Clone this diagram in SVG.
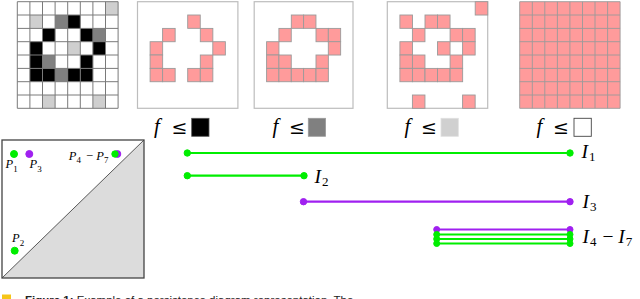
<svg xmlns="http://www.w3.org/2000/svg" xmlns:xlink="http://www.w3.org/1999/xlink" width="640" height="299" viewBox="0 0 640 299">
<style>
.frame{fill:#fff;stroke:#bdbdbd;stroke-width:1.2}
.pk{fill:#ff9b9b;stroke:#9a9a9a;stroke-width:0.9}
.grid{fill:none;stroke:#7a7a7a;stroke-width:1}
.pgrid{fill:none;stroke:#9a9a9a;stroke-width:0.9}
.k{fill:#000}.d{fill:#808080}.l{fill:#cfcfcf}
.math{font-family:"Liberation Serif",serif;font-style:italic;fill:#000}
.sub{font-style:normal}
.op{font-family:"DejaVu Serif","Liberation Serif",serif;fill:#000}
.g{stroke:#00ee00;fill:#00ee00}
.v{stroke:#a020f0;fill:#a020f0}
.bar{stroke-width:2.2;fill:none}
.cap{font-family:"Liberation Sans",Arial,sans-serif;font-size:11.5px;fill:#222}
</style>
<defs>
<rect id="c1" width="12.6" height="13.33"/>
<rect id="c2" class="pk" width="12.55" height="13.33"/>
<rect id="c3" class="pk" width="12.35" height="13.33"/>
</defs>

<g id="image-grid">
<rect x="17.3" y="1.7" width="100.8" height="106.6" fill="#fff"/>
<use xlink:href="#c1" class="l" x="105.5" y="1.7"/>
<use xlink:href="#c1" class="l" x="29.9" y="15"/>
<use xlink:href="#c1" class="l" x="67.7" y="41.7"/>
<use xlink:href="#c1" class="l" x="42.5" y="95"/>
<use xlink:href="#c1" class="l" x="92.9" y="95"/>
<use xlink:href="#c1" class="d" x="55.1" y="15"/>
<use xlink:href="#c1" class="d" x="92.9" y="28.4"/>
<use xlink:href="#c1" class="d" x="42.5" y="55"/>
<use xlink:href="#c1" class="d" x="55.1" y="68.4"/>
<use xlink:href="#c1" class="k" x="67.7" y="15"/>
<use xlink:href="#c1" class="k" x="42.5" y="28.4"/>
<use xlink:href="#c1" class="k" x="80.3" y="28.4"/>
<use xlink:href="#c1" class="k" x="29.9" y="41.7"/>
<use xlink:href="#c1" class="k" x="92.9" y="41.7"/>
<use xlink:href="#c1" class="k" x="29.9" y="55"/>
<use xlink:href="#c1" class="k" x="80.3" y="55"/>
<use xlink:href="#c1" class="k" x="29.9" y="68.4"/>
<use xlink:href="#c1" class="k" x="42.5" y="68.4"/>
<use xlink:href="#c1" class="k" x="67.7" y="68.4"/>
<use xlink:href="#c1" class="k" x="80.3" y="68.4"/>
<path class="grid" d="M17.3 1.7V108.3M29.9 1.7V108.3M42.5 1.7V108.3M55.1 1.7V108.3M67.7 1.7V108.3M80.3 1.7V108.3M92.9 1.7V108.3M105.5 1.7V108.3M118.1 1.7V108.3M17.3 1.7H118.1M17.3 15H118.1M17.3 28.4H118.1M17.3 41.7H118.1M17.3 55H118.1M17.3 68.4H118.1M17.3 81.7H118.1M17.3 95H118.1M17.3 108.3H118.1"/>
</g>

<g id="panel-black">
<rect class="frame" x="137.5" y="1.7" width="100.4" height="106.6"/>
<use xlink:href="#c2" x="187.7" y="15"/>
<use xlink:href="#c2" x="162.6" y="28.4"/>
<use xlink:href="#c2" x="200.3" y="28.4"/>
<use xlink:href="#c2" x="150.1" y="41.7"/>
<use xlink:href="#c2" x="212.8" y="41.7"/>
<use xlink:href="#c2" x="150.1" y="55"/>
<use xlink:href="#c2" x="200.3" y="55"/>
<use xlink:href="#c2" x="150.1" y="68.4"/>
<use xlink:href="#c2" x="162.6" y="68.4"/>
<use xlink:href="#c2" x="187.7" y="68.4"/>
<use xlink:href="#c2" x="200.3" y="68.4"/>
<text class="math" x="154" y="133" font-size="21">f</text>
<text class="op" x="171.5" y="134" font-size="19">≤</text>
<rect x="191.7" y="118.3" width="17.3" height="18" fill="#000" stroke="#555" stroke-width="0.8"/>
</g>

<g id="panel-darkgray">
<rect class="frame" x="254.2" y="1.7" width="98.8" height="106.6"/>
<use xlink:href="#c3" x="291.3" y="15"/>
<use xlink:href="#c3" x="303.6" y="15"/>
<use xlink:href="#c3" x="278.9" y="28.4"/>
<use xlink:href="#c3" x="316" y="28.4"/>
<use xlink:href="#c3" x="328.3" y="28.4"/>
<use xlink:href="#c3" x="266.6" y="41.7"/>
<use xlink:href="#c3" x="328.3" y="41.7"/>
<use xlink:href="#c3" x="266.6" y="55"/>
<use xlink:href="#c3" x="278.9" y="55"/>
<use xlink:href="#c3" x="316" y="55"/>
<use xlink:href="#c3" x="266.6" y="68.4"/>
<use xlink:href="#c3" x="278.9" y="68.4"/>
<use xlink:href="#c3" x="291.3" y="68.4"/>
<use xlink:href="#c3" x="303.6" y="68.4"/>
<use xlink:href="#c3" x="316" y="68.4"/>
<text class="math" x="272.5" y="133" font-size="21">f</text>
<text class="op" x="289" y="134" font-size="19">≤</text>
<rect x="308.3" y="118.3" width="17.3" height="18" fill="#808080" stroke="#9a9a9a" stroke-width="0.8"/>
</g>

<g id="panel-lightgray">
<rect class="frame" x="387.3" y="1.7" width="100.4" height="106.6"/>
<use xlink:href="#c2" x="475.2" y="1.7"/>
<use xlink:href="#c2" x="399.9" y="15"/>
<use xlink:href="#c2" x="425" y="15"/>
<use xlink:href="#c2" x="437.5" y="15"/>
<use xlink:href="#c2" x="412.4" y="28.4"/>
<use xlink:href="#c2" x="450.1" y="28.4"/>
<use xlink:href="#c2" x="462.6" y="28.4"/>
<use xlink:href="#c2" x="399.9" y="41.7"/>
<use xlink:href="#c2" x="437.5" y="41.7"/>
<use xlink:href="#c2" x="462.6" y="41.7"/>
<use xlink:href="#c2" x="399.9" y="55"/>
<use xlink:href="#c2" x="412.4" y="55"/>
<use xlink:href="#c2" x="450.1" y="55"/>
<use xlink:href="#c2" x="399.9" y="68.4"/>
<use xlink:href="#c2" x="412.4" y="68.4"/>
<use xlink:href="#c2" x="425" y="68.4"/>
<use xlink:href="#c2" x="437.5" y="68.4"/>
<use xlink:href="#c2" x="450.1" y="68.4"/>
<use xlink:href="#c2" x="412.4" y="95"/>
<use xlink:href="#c2" x="462.6" y="95"/>
<text class="math" x="404.5" y="133" font-size="21">f</text>
<text class="op" x="421" y="134" font-size="19">≤</text>
<rect x="441" y="118.3" width="17.3" height="18" fill="#d0d0d0" stroke="#e0e0e0" stroke-width="0.8"/>
</g>

<g id="panel-white">
<rect x="519.7" y="1.7" width="100.4" height="106.6" fill="#ff9b9b"/>
<path class="pgrid" d="M519.7 1.7V108.3M532.3 1.7V108.3M544.8 1.7V108.3M557.4 1.7V108.3M569.9 1.7V108.3M582.5 1.7V108.3M595 1.7V108.3M607.6 1.7V108.3M620.1 1.7V108.3M519.7 1.7H620.1M519.7 15H620.1M519.7 28.4H620.1M519.7 41.7H620.1M519.7 55H620.1M519.7 68.4H620.1M519.7 81.7H620.1M519.7 95H620.1M519.7 108.3H620.1"/>
<text class="math" x="536.5" y="133" font-size="21">f</text>
<text class="op" x="553" y="134" font-size="19">≤</text>
<rect x="574" y="118.3" width="17.3" height="18" fill="#fff" stroke="#444" stroke-width="0.9"/>
</g>

<g id="persistence-diagram">
<rect x="2" y="140" width="142" height="138" fill="#fff"/>
<polygon points="2,278 144,140 144,278" fill="#dcdcdc"/>
<line x1="2" y1="278" x2="144" y2="140" stroke="#333" stroke-width="0.8"/>
<rect x="2" y="140" width="142" height="138" fill="none" stroke="#444" stroke-width="1.3"/>
<circle class="g" cx="14" cy="154" r="3.5" stroke="none"/>
<circle class="v" cx="29.3" cy="154" r="3.5" stroke="none"/>
<circle class="v" cx="117.4" cy="154" r="3.4" stroke="none"/>
<circle class="g" cx="115" cy="154" r="3.2" stroke="none"/>
<circle class="g" cx="14.7" cy="250.7" r="3.5" stroke="none"/>
<text class="math" x="5.5" y="168.3" font-size="12.5">P<tspan class="sub" font-size="9" dy="3.2">1</tspan></text>
<text class="math" x="29.5" y="168.3" font-size="12.5">P<tspan class="sub" font-size="9" dy="3.2">3</tspan></text>
<text class="math" x="68.8" y="160" font-size="12.5">P<tspan class="sub" font-size="9" dy="3.2">4</tspan><tspan class="sub" font-size="12.5" dy="-3.2" dx="2"> − </tspan><tspan>P</tspan><tspan class="sub" font-size="9" dy="3.2">7</tspan></text>
<text class="math" x="12" y="242.3" font-size="12.5">P<tspan class="sub" font-size="9" dy="3.2">2</tspan></text>
</g>

<g id="barcode">
<line class="g bar" x1="187.3" y1="153" x2="570" y2="153"/>
<circle class="g" cx="187.3" cy="153" r="3.2" stroke="none"/>
<circle class="g" cx="570" cy="153" r="3.2" stroke="none"/>
<line class="g bar" x1="187.3" y1="175.7" x2="304" y2="175.7"/>
<circle class="g" cx="187.3" cy="175.7" r="3.2" stroke="none"/>
<circle class="g" cx="304" cy="175.7" r="3.2" stroke="none"/>
<line class="v bar" x1="303.5" y1="201.7" x2="570" y2="201.7"/>
<circle class="v" cx="303.5" cy="201.7" r="3.2" stroke="none"/>
<circle class="v" cx="570" cy="201.7" r="3.2" stroke="none"/>
<line class="v bar" x1="436.7" y1="229.5" x2="570" y2="229.5"/>
<circle class="v" cx="436.7" cy="229.5" r="3" stroke="none"/>
<circle class="v" cx="570" cy="229.5" r="3" stroke="none"/>
<line class="g bar" x1="436.7" y1="234.5" x2="570" y2="234.5"/>
<circle class="g" cx="436.7" cy="234.5" r="3" stroke="none"/>
<circle class="g" cx="570" cy="234.5" r="3" stroke="none"/>
<line class="g bar" x1="436.7" y1="239" x2="570" y2="239"/>
<circle class="g" cx="436.7" cy="239" r="3" stroke="none"/>
<circle class="g" cx="570" cy="239" r="3" stroke="none"/>
<line class="g bar" x1="436.7" y1="243.5" x2="570" y2="243.5"/>
<circle class="g" cx="436.7" cy="243.5" r="3" stroke="none"/>
<circle class="g" cx="570" cy="243.5" r="3" stroke="none"/>
<text class="math" x="581.5" y="158.3" font-size="19.5">I<tspan class="sub" font-size="13" dy="2.8" dx="1">1</tspan></text>
<text class="math" x="314.5" y="182.7" font-size="19.5">I<tspan class="sub" font-size="13" dy="2.8" dx="1">2</tspan></text>
<text class="math" x="582.5" y="208.3" font-size="19.5">I<tspan class="sub" font-size="13" dy="2.8" dx="1">3</tspan></text>
<text class="math" x="582.5" y="242.7" font-size="19.5">I<tspan class="sub" font-size="13" dy="2.8" dx="1">4</tspan><tspan class="sub" dy="-2.8" dx="1"> − </tspan><tspan>I</tspan><tspan class="sub" font-size="13" dy="2.8" dx="1">7</tspan></text>
</g>

<g id="caption">
<rect x="2" y="294.5" width="9" height="6" fill="#f5c518"/>
<text class="cap" x="25" y="303.5"><tspan font-weight="bold">Figure 1:</tspan> Example of a persistence diagram representation. The</text>
</g>
</svg>
